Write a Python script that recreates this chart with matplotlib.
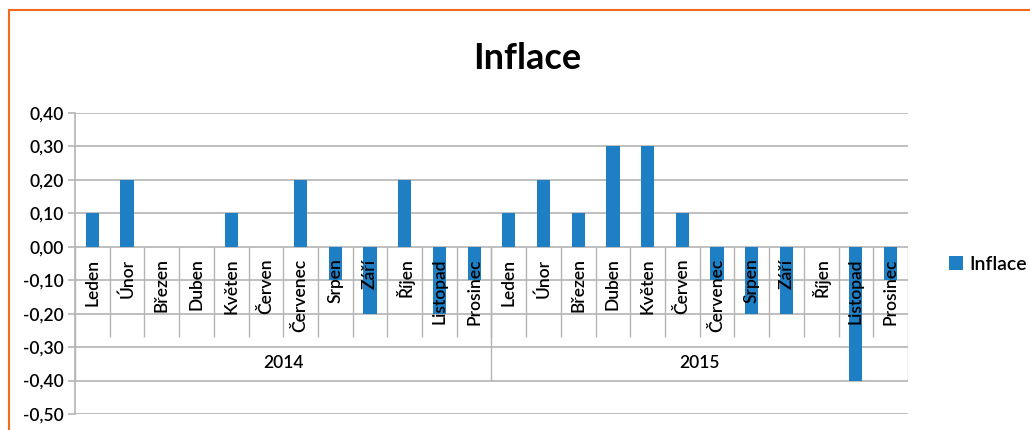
import numpy as np
import matplotlib
matplotlib.use('Agg')
import matplotlib.pyplot as plt
from matplotlib.lines import Line2D
from matplotlib.ticker import FuncFormatter, MultipleLocator

# ============================================================================
# DATA
# ============================================================================

years = ['2014', '2015']
months = ['Leden', 'Únor', 'Březen', 'Duben', 'Květen', 'Červen',
          'Červenec', 'Srpen', 'Září', 'Říjen', 'Listopad', 'Prosinec']
inflace_2014 = [0.1, 0.2, 0.0, 0.0, 0.1, 0.0, 0.2, -0.1, -0.2, 0.2, -0.2, -0.1]
inflace_2015 = [0.1, 0.2, 0.1, 0.3, 0.3, 0.1, -0.1, -0.2, -0.2, 0.0, -0.4, -0.1]

BAR_COLOR = '#1f7fc5'
GRID_COLOR = '#b4b4b4'
ORANGE = '#f26b1d'
FS = 12.5   # velikost popisku
TW = 'semibold'

plt.rcParams['font.family'] = ['Lato', 'DejaVu Sans']

values = inflace_2014 + inflace_2015
labels = months * len(years)
x = np.arange(len(values))

fig = plt.figure(figsize=(10.3, 4.3), dpi=100)
ax = fig.add_axes([0.0728, 0.0372, 0.8087, 0.700])

ax.bar(x, values, width=0.38, color=BAR_COLOR, zorder=3, label='Inflace')

ax.set_xlim(-0.5, len(values) - 0.5)
ax.set_ylim(-0.5, 0.4)
ax.yaxis.set_major_locator(MultipleLocator(0.1))
ax.yaxis.set_major_formatter(FuncFormatter(lambda v, p: f'{v:.2f}'.replace('.', ',')))
ax.grid(True, axis='y', color=GRID_COLOR, linewidth=1.2, zorder=0)
ax.set_xticks([])
for s in ['top', 'right', 'bottom']:
    ax.spines[s].set_visible(False)
ax.spines['left'].set_color(GRID_COLOR)
ax.spines['left'].set_linewidth(1.2)
ax.tick_params(axis='y', length=5, color=GRID_COLOR, width=1.2,
               labelsize=FS, pad=3)
for t in ax.get_yticklabels():
    t.set_fontweight(TW)

# kategorie - mesice + roky
for i, lab in enumerate(labels):
    ax.text(i, -0.035, lab, rotation=90, ha='center', va='top',
            fontsize=FS, fontweight=TW, color='black', zorder=4)

ax.vlines(x[:-1] + 0.5, -0.27, 0, color=GRID_COLOR, linewidth=1.0, zorder=1)
n = len(months)
year_edges = [k * n - 0.5 for k in range(len(years) + 1)]
ax.vlines(year_edges, -0.40, 0, color=GRID_COLOR, linewidth=1.0, zorder=1)
for k, yr in enumerate(years):
    ax.text((year_edges[k] + year_edges[k + 1]) / 2, -0.347, yr,
            ha='center', va='center', fontsize=FS, fontweight=TW)

fig.text(0.512, 0.865, 'Inflace', ha='center', va='center',
         fontsize=26, fontweight='bold')

fig.legend(loc='center left', bbox_to_anchor=(0.912, 0.386), frameon=False,
           prop={'size': 14, 'weight': TW}, handlelength=0.7,
           handleheight=0.7, handletextpad=0.35, borderpad=0)

# oranzovy ramecek
fig.add_artist(Line2D([0.0087, 1.0], [1 - 10 / 430, 1 - 10 / 430],
                      transform=fig.transFigure, color=ORANGE, linewidth=1.5))
fig.add_artist(Line2D([0.0087, 0.0087], [0.0, 1 - 10 / 430],
                      transform=fig.transFigure, color=ORANGE, linewidth=1.5))

fig.savefig('out.png', dpi=100)
